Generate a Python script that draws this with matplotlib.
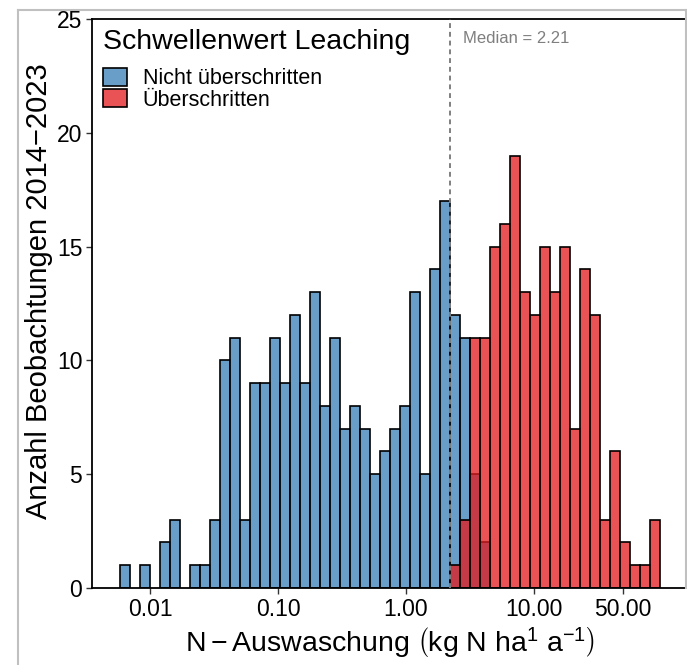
import matplotlib.pyplot as plt
import numpy as np
from matplotlib.patches import Patch
from matplotlib.lines import Line2D

plt.rcParams['font.family'] = ['Liberation Sans', 'DejaVu Sans']
plt.rcParams['mathtext.fontset'] = 'custom'
plt.rcParams['mathtext.rm'] = 'Liberation Sans'
plt.rcParams['mathtext.it'] = 'Liberation Sans:italic'

# histogram bins: equal width on the log10 axis
first_edge = 0.00581
log_bin_width = 0.0782
n_bins = 54

# counts per bin (blue starts at bin 0, red at bin 33)
blue_first_bin = 0
blue_counts = [1, 0, 1, 0, 2, 3, 0, 1, 1, 3,
               10, 11, 3, 9, 9, 11, 9, 12, 9, 13,
               8, 11, 7, 8, 7, 5, 6, 7, 8, 13,
               5, 14, 17, 12, 11, 5, 2]
red_first_bin = 33
red_counts = [1, 3, 11, 11, 15, 16, 19, 13, 12, 15,
              13, 15, 7, 14, 12, 3, 6, 2, 1, 1, 3]

median_value = 2.21
x_ticks = [0.01, 0.1, 1, 10, 50]
x_tick_labels = ['0.01', '0.10', '1.00', '10.00', '50.00']
y_ticks = [0, 5, 10, 15, 20, 25]
legend_title = 'Schwellenwert Leaching'
legend_labels = ['Nicht überschritten', 'Überschritten']

blue = '#377EB8'
red = '#E41A1C'
alpha = 0.75

edges = 10 ** (np.log10(first_edge) + log_bin_width * np.arange(n_bins + 1))

fig = plt.figure(figsize=(6.87, 6.65), dpi=100)
ax = fig.add_axes([92 / 687, 77 / 665, 595 / 687, 569 / 665])


def draw_hist(counts, first_bin, color):
    for i, c in enumerate(counts):
        if c == 0:
            continue
        k = first_bin + i
        ax.bar(edges[k], c, width=edges[k + 1] - edges[k], align='edge',
               facecolor=(*plt.matplotlib.colors.to_rgb(color), alpha),
               edgecolor='black', linewidth=1.2, zorder=2)


draw_hist(blue_counts, blue_first_bin, blue)
draw_hist(red_counts, red_first_bin, red)

ax.set_xscale('log')
ax.set_xlim(0.00351, 158.2)
ax.set_ylim(0, 25)
ax.set_xticks(x_ticks)
ax.set_xticklabels(x_tick_labels)
ax.minorticks_off()
ax.set_yticks(y_ticks)
ax.tick_params(axis='both', labelsize=16.5, length=4, width=1, color='#333333', pad=3)

for s in ['left', 'bottom', 'top']:
    ax.spines[s].set_linewidth(1.3)
ax.spines['right'].set_visible(False)

ax.axvline(median_value, color='#7f7f7f', linestyle=(0, (2.5, 2)), linewidth=1.4, zorder=3)
ax.annotate(f'Median = {median_value}', xy=(median_value, 1),
            xycoords=('data', 'axes fraction'), xytext=(9.4, -17.5),
            textcoords='offset points', color='#7f7f7f', fontsize=12, va='baseline')

ax.set_xlabel(r'$\mathrm{N - Auswaschung}\ \left(\mathrm{kg\ N\ ha^{1}\ a^{-1}}\right)$',
              fontsize=20.5, labelpad=3)
ax.set_ylabel('Anzahl Beobachtungen 2014\u22122023', fontsize=21, labelpad=2)
ax.yaxis.set_label_coords(-0.065, 0.522)

# legend: title as its own text, keys below it
fig.text(103 / 687, 1 - 49 / 665, legend_title, fontsize=20.5, va='baseline', ha='left')
handles = [Patch(facecolor=(*plt.matplotlib.colors.to_rgb(c), alpha), edgecolor='black', linewidth=1.2)
           for c in [blue, red]]
leg = ax.legend(handles, legend_labels, loc='upper left',
                bbox_to_anchor=(103 / 687, 1 - 68 / 665), bbox_transform=fig.transFigure,
                frameon=False, fontsize=15.5, borderpad=0, handlelength=1.1,
                handleheight=0.9, handletextpad=0.75, labelspacing=0.0, borderaxespad=0)

# grey frame of the original screenshot
fig.add_artist(Line2D([18 / 687, 18 / 687], [0, 1 - 10 / 665], color='#c0c0c0', lw=1.5))
fig.add_artist(Line2D([18 / 687, 1], [1 - 10 / 665, 1 - 10 / 665], color='#c0c0c0', lw=1.5))
fig.add_artist(Line2D([686 / 687, 686 / 687], [1 - 10 / 665, 1 - 588 / 665], color='#c0c0c0', lw=1.5))

fig.savefig('out.png', dpi=100)
